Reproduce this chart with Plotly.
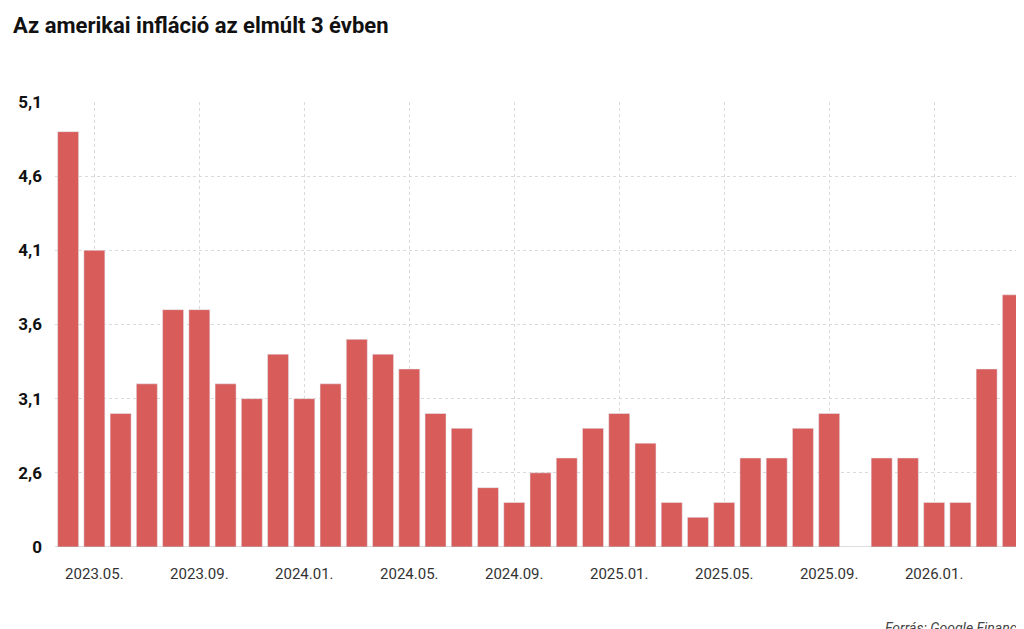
import plotly.graph_objects as go

months = [f"{y}.{m:02d}." for y, m in
          [(2023, m) for m in range(4, 13)] + [(2024, m) for m in range(1, 13)] +
          [(2025, m) for m in range(1, 13)] + [(2026, m) for m in range(1, 5)]]
values = [4.9, 4.1, 3.0, 3.2, 3.7, 3.7, 3.2, 3.1, 3.4, 3.1, 3.2, 3.5, 3.4,
          3.3, 3.0, 2.9, 2.5, 2.4, 2.6, 2.7, 2.9, 3.0, 2.8, 2.4, 2.3, 2.4,
          2.7, 2.7, 2.9, 3.0, None, 2.7, 2.7, 2.4, 2.4, 3.3, 3.8]
tick_months = ["2023.05.", "2023.09.", "2024.01.", "2024.05.", "2024.09.",
               "2025.01.", "2025.05.", "2025.09.", "2026.01."]
y_ticks = [2.1, 2.6, 3.1, 3.6, 4.1, 4.6, 5.1]
y_labels = ["0", "2,6", "3,1", "3,6", "4,1", "4,6", "5,1"]

fig = go.Figure(go.Bar(x=months, y=values, marker_color="#d75c5a", width=0.8))
fig.update_layout(
    width=1024, height=629, plot_bgcolor="white", paper_bgcolor="white",
    margin=dict(l=47, r=6, t=94, b=90, autoexpand=False), showlegend=False,
    font=dict(family="Roboto", color="#222"),
    title=dict(text="<b>Az amerikai infláció az elmúlt 3 évben</b>", x=0.005, y=0.985,
               xanchor="left", yanchor="top", font=dict(size=22, color="#111")),
    annotations=[dict(text="<i>Forrás: Google Finance</i>", xref="paper", yref="paper",
                      x=1, y=-0.16, xanchor="right", yanchor="top", showarrow=False,
                      font=dict(size=14, color="#444"))],
)
fig.update_xaxes(tickmode="array", tickvals=tick_months, ticktext=tick_months,
                 showgrid=True, gridcolor="#dadada", griddash="dot", automargin=False,
                 tickfont=dict(size=15, color="#333"), ticks="", ticklabelstandoff=16)
fig.update_yaxes(range=[2.1, 5.1], tickvals=y_ticks, ticktext=[f"<b>{t}</b>" for t in y_labels],
                 gridcolor="#dadada", griddash="dot", tickfont=dict(size=17, color="#111"),
                 zeroline=False, ticklabelstandoff=12, automargin=False)
fig.add_hline(y=2.1, line_color="#bbb", line_width=1)
fig.write_html("out.html")
